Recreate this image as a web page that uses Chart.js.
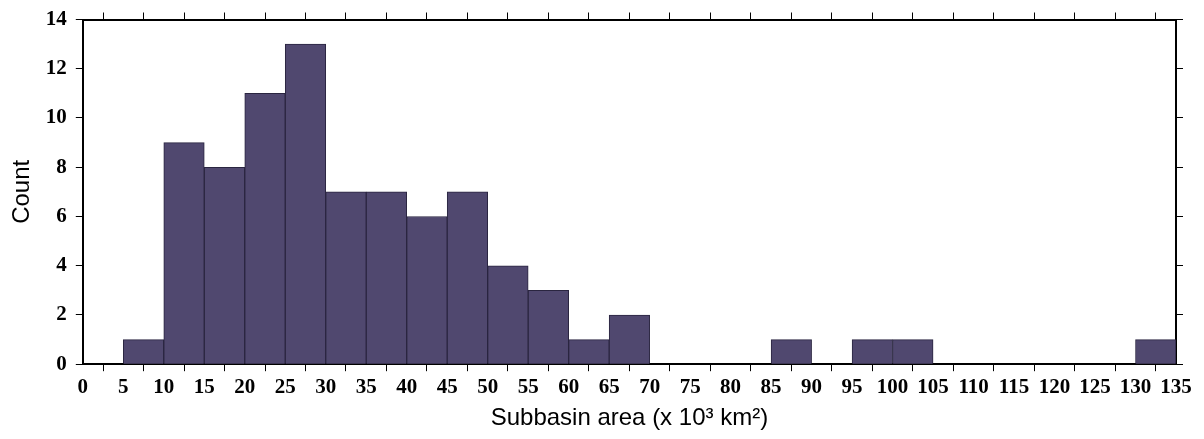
<!DOCTYPE html>
<html>
<head>
<meta charset="utf-8">
<script src="https://cdn.jsdelivr.net/npm/chart.js@4/dist/chart.umd.min.js"></script>
<style>
  html, body { margin: 0; padding: 0; background: #fff; }
  #wrap { width: 1204px; height: 439px; }
</style>
</head>
<body>
<div id="wrap"><canvas id="hist"></canvas></div>
<script>
// histogram bins, 5 (x 10^3 km2) wide
const binStarts = [0, 5, 10, 15, 20, 25, 30, 35, 40, 45, 50, 55, 60, 65, 70,
  75, 80, 85, 90, 95, 100, 105, 110, 115, 120, 125, 130];
const binWidth = 5;
const counts = [0, 1, 9, 8, 11, 13, 7, 7, 6, 7, 4, 3, 1, 2, 0,
  0, 0, 1, 0, 1, 1, 0, 0, 0, 0, 0, 1];
const xTicks = { min: 0, max: 135, step: 5 };
const yTicks = { min: 0, max: 14, step: 2 };

const tickFont = { family: 'Liberation Serif', weight: 'bold', size: 21, lineHeight: 1 };
const titleFont = { family: 'Liberation Sans', size: 24 };

const points = binStarts.map((s, i) => ({ x: s + binWidth / 2, y: counts[i] }));

// tick marks only, outward, no labels (for top/right frame)
function frameAxis(position, range) {
  return {
    type: 'linear',
    position: position,
    min: range.min,
    max: range.max,
    offset: false,
    ticks: { display: false, stepSize: range.step },
    grid: { drawOnChartArea: false, drawTicks: true, tickLength: 7, color: '#000', lineWidth: 1 },
    border: { display: true, color: '#000', width: 2 }
  };
}

const ctx = document.getElementById('hist').getContext('2d');
new Chart(ctx, {
  type: 'bar',
  data: {
    datasets: [{
      data: points,
      backgroundColor: '#50486f',
      borderColor: '#2a2540',
      borderWidth: 1,
      barPercentage: 1,
      categoryPercentage: 1
    }]
  },
  options: {
    responsive: true,
    maintainAspectRatio: false,
    animation: false,
    layout: { padding: { top: 6, right: 21, bottom: 6, left: 8 } },
    plugins: { legend: { display: false }, tooltip: { enabled: false } },
    scales: {
      x: {
        type: 'linear',
        position: 'bottom',
        min: xTicks.min,
        max: xTicks.max,
        offset: false,
        ticks: { stepSize: xTicks.step, color: '#000', font: tickFont, padding: 6, maxRotation: 0, autoSkip: false },
        grid: { drawOnChartArea: false, tickLength: 7, color: '#000', lineWidth: 1 },
        border: { color: '#000', width: 2 },
        title: { display: true, text: 'Subbasin area (x 10³ km²)', color: '#000', font: titleFont, padding: { top: 0, bottom: 0 } }
      },
      y: {
        type: 'linear',
        position: 'left',
        min: yTicks.min,
        max: yTicks.max,
        ticks: { stepSize: yTicks.step, color: '#000', font: tickFont, padding: 9 },
        grid: { drawOnChartArea: false, tickLength: 7, color: '#000', lineWidth: 1 },
        border: { color: '#000', width: 2 },
        title: { display: true, text: 'Count', color: '#000', font: titleFont, padding: { top: 0, bottom: 0 } }
      },
      x2: frameAxis('top', xTicks),
      y2: frameAxis('right', yTicks)
    }
  }
});
</script>
</body>
</html>
